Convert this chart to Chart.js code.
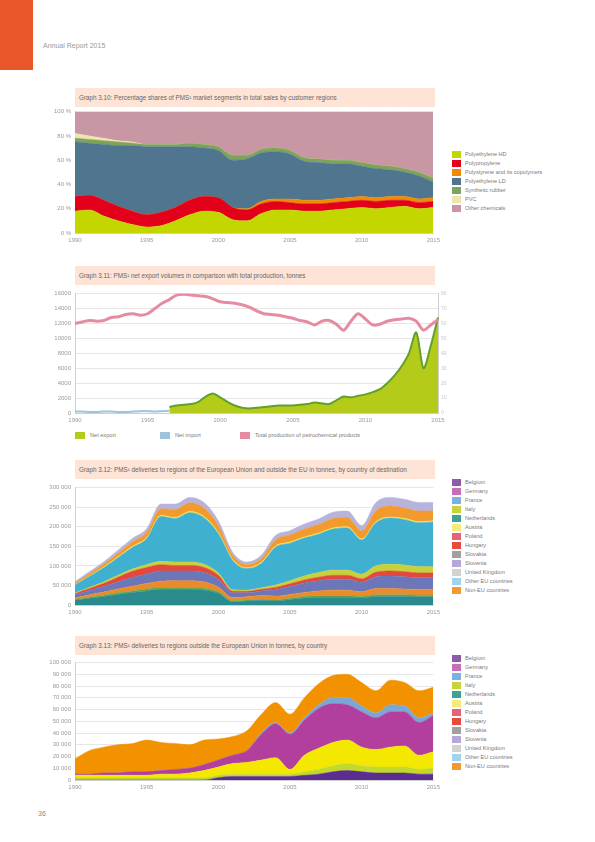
<!DOCTYPE html>
<html><head><meta charset="utf-8">
<script src="https://cdn.jsdelivr.net/npm/chart.js@4.4.0/dist/chart.umd.min.js"></script>
<style>
body{margin:0;width:595px;height:842px;position:relative;background:#fff;font-family:"Liberation Sans","Open Sans",sans-serif;overflow:hidden}
.tab{position:absolute;left:0;top:0;width:33px;height:70px;background:#e8562a}
.hdr{position:absolute;left:43px;top:42px;font-size:7px;color:#9a9a9a}
.pg{position:absolute;left:38px;top:810px;font-size:7px;color:#888}
.ttl{position:absolute;left:75px;width:360px;height:19px;background:#fde4d7;font-size:6.3px;color:#666;line-height:19px;padding-left:4px;box-sizing:border-box;white-space:nowrap;overflow:hidden}
canvas{position:absolute}
.lg{position:absolute;font-size:5.6px;color:#7a7a7a}
.lg div{height:9px;line-height:9px;white-space:nowrap}
.lg span{display:inline-block;width:9px;height:7px;margin-right:4px;vertical-align:middle}
.lgh{position:absolute;font-size:5.6px;color:#7a7a7a;white-space:nowrap}
.lgh span{display:inline-block;width:10px;height:7px;margin-right:5px;vertical-align:middle}
</style></head>
<body>
<div class="tab"></div>
<div class="hdr">Annual Report 2015</div>

<div class="ttl" style="top:88px">Graph 3.10: Percentage shares of PMS¹ market segments in total sales by customer regions</div>
<canvas id="c1" width="404" height="144" style="left:40px;top:104px"></canvas>
<div class="lg" id="l1" style="left:452px;top:150px"></div>

<div class="ttl" style="top:266px">Graph 3.11: PMS¹ net export volumes in comparison with total production, tonnes</div>
<canvas id="c2" width="418" height="142" style="left:40px;top:286px"></canvas>
<div class="lgh" id="l2" style="left:75px;top:432px"></div>

<div class="ttl" style="top:460px">Graph 3.12: PMS¹ deliveries to regions of the European Union and outside the EU in tonnes, by country of destination</div>
<canvas id="c3" width="404" height="140" style="left:40px;top:480px"></canvas>
<div class="lg" id="l3" style="left:452px;top:478px"></div>

<div class="ttl" style="top:636px">Graph 3.13: PMS¹ deliveries to regions outside the European Union in tonnes, by country</div>
<canvas id="c4" width="404" height="140" style="left:40px;top:655px"></canvas>
<div class="lg" id="l4" style="left:452px;top:654px"></div>

<div class="pg">36</div>

<script>
// ---------- shared categories ----------
const years = ['1990','1991','1992','1993','1994','1995','1996','1997','1998','1999','2000','2001','2002','2003','2004','2005','2006','2007','2008','2009','2010','2011','2012','2013','2014','2015'];

// ---------- chart 1: percentage shares ----------
const c1Names = ['Polyethylene HD','Polypropylene','Polystyrene and its copolymers','Polyethylene LD','Synthetic rubber','PVC','Other chemicals'];
const c1Colors = ['#c4d600','#e2001a','#f08a00','#4f768e','#7ea35a','#efe3b0','#c996a3'];
const shareLime   = [18,19,14,10,7,5,6,10,15,18,17,11,10,16,19,19,18,18,19,20,21,20,21,22,20,21];
const shareRed    = [12,12,13,12,11,10,11,11,12,12,12,10,9,8,7,6,6,6,6,6,6,6,6,5,5,5];
const shareOrange = [0,0,0,0,0,0,0,0,0,0,0,0,1,2,2,3,3,3,3,3,3,3,3,3,3,3];
const shareBlue   = [45,43,46,50,54,56,54,50,44,40,39,39,41,40,39,37,32,31,29,28,25,24,22,20,19,13];
const shareGreen  = [3,3,3,3,2,2,2,2,3,3,3,4,3,3,3,3,3,3,3,3,3,3,3,3,3,3];
const shareCream  = [4,3,2,1,1,0,0,0,0,0,0,0,0,0,0,0,0,0,0,0,0,0,0,0,0,0];
const sharePink   = [18,20,22,24,25,27,27,27,26,27,29,36,36,31,30,32,38,39,40,40,42,44,45,47,50,55];
const c1Ticks = [0,20,40,60,80,100];

// ---------- chart 2: production vs net export ----------
const c2Names = ['Net export','Net import','Total production of petrochemical products'];
const c2Colors = ['#b5cb1a','#9ec3de','#e58ca3'];
const totalProduction = [12000,12200,12400,12300,12400,12800,12900,13200,13300,13100,
  13300,14000,14700,15200,15800,15900,15800,15700,15600,15300,
  14900,14800,14700,14500,14200,13700,13300,13200,13100,12900,
  12700,12400,12200,11800,12300,12400,11900,11100,12300,13300,
  12600,11800,11900,12300,12500,12600,12700,12300,11100,11800,12500];
const netExport = [null,null,null,null,null,null,null,null,null,null,null,null,null,
  800,1000,1100,1200,1500,2200,2600,2100,1500,1000,700,600,700,800,900,1000,1000,1000,1100,1200,
  1400,1300,1200,1700,2200,2100,2300,2500,2800,3200,4000,5000,6300,8000,10800,6000,9000,12800];
const netImport = [200,200,150,150,200,200,150,150,200,250,250,200,250,300,
  null,null,null,null,null,null,null,null,null,null,null,null,null,null,null,null,null,null,null,
  null,null,null,null,null,null,null,null,null,null,null,null,null,null,null,null,null,null];
const c2Ticks = [0,2000,4000,6000,8000,10000,12000,14000,16000];

// ---------- charts 3 & 4: deliveries by country ----------
const regionNames = ['Belgium','Germany','France','Italy','Netherlands','Austria','Poland','Hungary','Slovakia','Slovenia','United Kingdom','Other EU countries','Non-EU countries'];
const regionColors = ['#8e5ba8','#c46fb8','#7bb3e0','#c8d43a','#3aa39a','#f3ec7a','#e8607a','#e84a3c','#a0a0a0','#b7a6d8','#d2d2d2','#9fd3ee','#f39a2e'];

const d3Teal       = [12,17,22,27,32,36,40,40,40,38,30,8,10,12,10,14,18,20,20,20,18,22,22,22,21,21];
const d3Green      = [2,3,3,4,4,5,5,5,5,5,4,3,3,3,3,3,4,4,4,4,4,4,4,4,4,4];
const d3OrangeLow  = [4,6,8,10,12,14,16,17,17,16,12,8,8,9,10,10,10,12,14,14,12,16,16,15,15,15];
const d3Purple     = [8,11,14,18,22,24,26,25,25,24,20,12,10,12,16,20,24,26,28,28,24,30,32,31,30,30];
const d3Red        = [3,5,8,12,16,17,16,14,14,13,10,4,4,4,6,7,8,9,10,10,9,12,13,13,12,12];
const d3YellowGrn  = [2,3,4,5,6,7,8,9,9,8,6,4,3,4,6,8,10,12,13,13,12,16,17,17,16,16];
const d3Cyan       = [20,28,36,45,55,66,115,111,126,119,100,75,55,62,97,96,97,98,105,108,87,110,118,116,112,114];
const d3Yellow     = [1,1,2,2,3,3,3,3,3,3,3,3,2,3,3,3,3,3,3,3,3,3,3,3,3,3];
const d3OrangeUp   = [4,6,7,9,11,13,17,20,22,22,18,10,8,10,16,18,20,22,24,24,20,28,28,27,27,26];
const d3Lavender   = [4,5,6,8,9,10,12,14,14,14,12,8,7,8,11,11,13,14,16,16,14,21,22,22,22,21];
const c3Labels = ['Slovakia','Slovenia','Austria','Germany','Poland','Italy','France','Netherlands','Non-EU countries','Belgium'];
const c3Colors = ['#2b8a8e','#67a84a','#ec8b2c','#6b77b8','#e4473c','#c9d13a','#3fb0cf','#f2e34a','#f39a2e','#b6b3dc'];
const c3Ticks = [0,50,100,150,200,250,300];

const d4Purple  = [0,0,0,0,0,0,0,0,0,0,2,3,3,3,3,3,4,5,7,8,7,6,6,6,5,5];
const d4Lime    = [2,2,2,2,2,2,2,2,2,2,2,2,2,2,2,2,3,4,5,6,5,5,5,5,4,5];
const d4Yellow  = [2,2,2,2,2,2,3,3,4,6,7,9,10,12,14,4,14,18,20,20,16,15,17,18,12,14];
const d4Magenta = [1,1,2,2,3,3,3,4,4,5,6,7,10,22,29,30,30,34,33,30,30,27,30,29,28,31];
const d4Blue    = [0,0,0,0,0,0,0,0,0,0,0,0,0,1,1,1,2,3,5,6,5,4,6,5,4,2];
const d4Orange  = [13,20,22,24,24,27,24,22,20,21,18,16,17,16,17,16,17,18,19,20,20,19,21,20,23,22];
const c4Labels = ['Belgium','Italy','Austria','Germany','France','Non-EU countries'];
const c4Colors = ['#5c2d91','#c2d82c','#f5e800','#b23f9e','#7ba7d6','#f39200'];
const c4Ticks = [0,10,20,30,40,50,60,70,80,90,100];

// ---------- helpers ----------
const tickFont = {family:'"Liberation Sans", sans-serif', size:6};
const tickColor = '#9a9a9a';
function fmtThousands(v){ const s = String(Math.round(v*1000)); return s.replace(/\B(?=(\d{3})+(?!\d))/g,' '); }
function stackSets(arrs, names, colors){
  return arrs.map((a,i)=>({label:names[i], data:a, backgroundColor:colors[i], borderColor:colors[i], borderWidth:0.5,
    fill: i===0 ? 'origin' : '-1', pointRadius:0, tension:0.35, cubicInterpolationMode:'monotone'}));
}
function xAxis(labelsEvery){
  return {grid:{display:false, drawTicks:false}, border:{color:'#cfcfcf'},
    ticks:{font:tickFont, color:tickColor, autoSkip:false, maxRotation:0, padding:4,
      callback:function(v,i){ return i % labelsEvery === 0 ? this.getLabelForValue(v) : ''; }},
    afterFit:(s)=>{ s.height = 15; }};
}
function yAxis(ticks, fmt, grid){
  return {stacked:true, min:ticks[0], max:ticks[ticks.length-1], border:{color:'#cfcfcf'},
    grid:{display:grid, color:'#e6e6e6', drawTicks:false},
    afterBuildTicks:(s)=>{ s.ticks = ticks.map(v=>({value:v})); },
    ticks:{font:tickFont, color:tickColor, padding:4, callback:fmt},
    afterFit:(s)=>{ s.width = 35; }};
}
const base = {responsive:false, animation:false, plugins:{legend:{display:false}, tooltip:{enabled:false}}, layout:{padding:{top:0,right:0}}};

function buildLegend(id, names, colors){
  const el = document.getElementById(id);
  names.forEach((n,i)=>{ const d=document.createElement('div'); d.innerHTML='<span style="background:'+colors[i]+'"></span>'+n; el.appendChild(d); });
}

// ---------- chart 1 ----------
new Chart(document.getElementById('c1'), {type:'line',
  data:{labels:years, datasets:stackSets([shareLime,shareRed,shareOrange,shareBlue,shareGreen,shareCream,sharePink], c1Names, c1Colors)},
  options:Object.assign({}, base, {scales:{x:xAxis(5), y:yAxis(c1Ticks, v=>v+' %', false)}})
});
buildLegend('l1', c1Names, c1Colors);

// ---------- chart 2 ----------
const labels2 = totalProduction.map((_,i)=> i%2 ? '' : years[i/2]);
new Chart(document.getElementById('c2'), {type:'line',
  data:{labels:labels2, datasets:[
    {label:c2Names[2], data:totalProduction, borderColor:c2Colors[2], borderWidth:3, pointRadius:0, tension:0.3, fill:false},
    {label:c2Names[1], data:netImport, borderColor:c2Colors[1], borderWidth:2, pointRadius:0, tension:0.3, fill:false},
    {label:c2Names[0], data:netExport, borderColor:'#62a02c', backgroundColor:c2Colors[0], borderWidth:2, pointRadius:0, tension:0.3, fill:'origin'}
  ]},
  options:Object.assign({}, base, {scales:{
    x:xAxis(10),
    y:Object.assign(yAxis(c2Ticks, v=>v, true), {stacked:false}),
    y1:{position:'right', min:0, max:80, grid:{display:false, drawTicks:false}, border:{color:'#cfcfcf'},
      ticks:{font:{size:5}, color:'#c8c8c8', stepSize:10, padding:3}, afterFit:(s)=>{ s.width = 20; }}
  }})
});
const l2 = document.getElementById('l2');
[[0,0],[1,85],[2,165]].forEach(([i,x])=>{ const d=document.createElement('div'); d.style.position='absolute'; d.style.left=x+'px';
  d.innerHTML='<span style="background:'+c2Colors[i]+'"></span>'+c2Names[i]; l2.appendChild(d); });

// ---------- chart 3 ----------
new Chart(document.getElementById('c3'), {type:'line',
  data:{labels:years, datasets:stackSets([d3Teal,d3Green,d3OrangeLow,d3Purple,d3Red,d3YellowGrn,d3Cyan,d3Yellow,d3OrangeUp,d3Lavender], c3Labels, c3Colors)},
  options:Object.assign({}, base, {scales:{x:xAxis(5), y:yAxis(c3Ticks, fmtThousands, true)}})
});
buildLegend('l3', regionNames, regionColors);

// ---------- chart 4 ----------
new Chart(document.getElementById('c4'), {type:'line',
  data:{labels:years, datasets:stackSets([d4Purple,d4Lime,d4Yellow,d4Magenta,d4Blue,d4Orange], c4Labels, c4Colors)},
  options:Object.assign({}, base, {scales:{x:xAxis(5), y:yAxis(c4Ticks, fmtThousands, true)}})
});
buildLegend('l4', regionNames, regionColors);
</script>
</body></html>
